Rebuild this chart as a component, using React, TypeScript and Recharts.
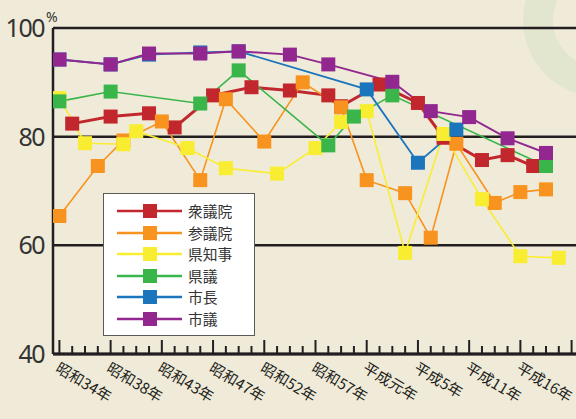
import React from "react";
import { CartesianGrid, Legend, Line, LineChart, XAxis, YAxis } from "recharts";

// x = election slot (one small tick each), y = turnout %
const xLabels = [
  "昭和34年", "昭和38年", "昭和43年", "昭和47年", "昭和52年",
  "昭和57年", "平成元年", "平成5年", "平成11年", "平成16年",
];
const xTicks = [
  0, 1, 2, 3, 4, 5, 6, 7, 8, 9, 10, 11, 12, 13, 14, 15, 16, 17, 18, 19, 20,
  21, 22, 23, 24, 25, 26, 27, 28, 29, 30, 31, 32, 33, 34, 35, 36, 37, 38, 39, 40,
];
const yTicks = [40, 60, 80, 100];

const shugiin = [
  [1, 82.4], [4, 83.7], [7, 84.3], [9, 81.7], [12, 87.6], [15, 89.1], [18, 88.5],
  [21, 87.6], [22, 85.6], [25, 89.6], [28, 86.2], [30, 79.8], [33, 75.7],
  [35, 76.6], [37, 74.6],
];
const sangiin = [
  [0, 65.4], [3, 74.6], [5, 79.3], [8, 82.8], [11, 72.0], [13, 86.9], [16, 79.1],
  [19, 90.0], [22, 85.4], [24, 72.0], [27, 69.6], [29, 61.4], [31, 78.7],
  [34, 67.8], [36, 69.8], [38, 70.3],
];
const chiji = [
  [0, 87.1], [2, 78.8], [5, 78.6], [6, 81.0], [10, 77.9], [13, 74.2], [17, 73.2],
  [20, 77.9], [22, 82.7], [24, 84.7], [27, 58.6], [30, 80.5], [33, 68.5],
  [36, 58.0], [39, 57.7],
];
const kengi = [
  [0, 86.5], [4, 88.3], [11, 86.1], [14, 92.2], [21, 78.4], [23, 83.7],
  [26, 87.6], [38, 74.6],
];
const shicho = [
  [0, 94.2], [4, 93.3], [7, 95.1], [11, 95.5], [14, 95.7], [24, 88.7],
  [28, 75.2], [31, 81.3],
];
const shigi = [
  [0, 94.2], [4, 93.3], [7, 95.3], [11, 95.3], [14, 95.7], [18, 95.1],
  [21, 93.3], [26, 90.1], [29, 84.7], [32, 83.6], [35, 79.7], [38, 77.0],
];

const toRows = (pts: number[][]) => pts.map(([k, v]) => ({ k, v }));

const series = [
  { name: "衆議院", color: "#c1272d", width: 3, pts: shugiin },
  { name: "参議院", color: "#f7931e", width: 1.6, pts: sangiin },
  { name: "県知事", color: "#f9ed32", width: 1.6, pts: chiji },
  { name: "県議", color: "#39b54a", width: 1.6, pts: kengi },
  { name: "市長", color: "#1b75bc", width: 1.8, pts: shicho },
  { name: "市議", color: "#92278f", width: 2, pts: shigi },
];

const ink = "#231f20";

const squareDot = (color: string) => (props: any) => {
  const { cx, cy, index } = props;
  if (cx == null || cy == null) return <g key={index} />;
  return <rect key={index} x={cx - 7} y={cy - 7} width={14} height={14} fill={color} />;
};

const XTick = (props: any) => {
  const { x, y, payload } = props;
  const k = payload.value;
  const major = k % 4 === 0;
  const label = major ? xLabels[k / 4] : undefined;
  const ax = x - 5;
  const ay = y + 17;
  return (
    <g>
      <line x1={x} x2={x} y1={y} y2={y - (major ? 14 : 8)} stroke={ink} strokeWidth={2} />
      {label && (
        <text
          x={ax}
          y={ay}
          transform={`rotate(31 ${ax} ${ay})`}
          fontSize={15}
          fontFamily="Noto Sans CJK JP"
          fill={ink}
        >
          {label}
        </text>
      )}
    </g>
  );
};

const YTick = (props: any) => {
  const { x, y, payload } = props;
  return (
    <text
      x={x}
      y={y}
      dy="0.36em"
      textAnchor="end"
      fontSize={25}
      fontFamily="Noto Sans"
      letterSpacing={-1.5}
      fill="#333"
    >
      {payload.value}
    </text>
  );
};

const PercentLabel = (props: any) => {
  const vb = props.viewBox || { x: 0, y: 28, width: 53 };
  return (
    <text x={vb.x + vb.width - 7} y={vb.y - 6} fontSize={14} fontFamily="Noto Sans" fill="#333">
      %
    </text>
  );
};

const LegendBox = () => (
  <div
    style={{
      width: 152,
      height: 143,
      boxSizing: "border-box",
      background: "#fff",
      border: "1.5px solid #5a5a5a",
      position: "relative",
    }}
  >
    {series.map((s, i) => (
      <div key={s.name} style={{ position: "absolute", left: 0, top: 7 + i * 21.6, height: 20, width: 150 }}>
        <svg width={82} height={20} style={{ position: "absolute", left: 0, top: 0 }}>
          <line x1={13} x2={78} y1={10} y2={10} stroke={s.color} strokeWidth={2.5} />
          <rect x={39} y={3} width={14} height={14} fill={s.color} />
        </svg>
        <span
          style={{
            position: "absolute",
            left: 84,
            top: 0,
            lineHeight: "20px",
            fontSize: 14.8,
            fontFamily: "Noto Sans CJK JP",
            color: "#333",
            whiteSpace: "nowrap",
          }}
        >
          {s.name}
        </span>
      </div>
    ))}
  </div>
);

export default function App() {
  return (
    <div
      style={{
        position: "fixed",
        left: 0,
        top: 0,
        width: 576,
        height: 419,
        overflow: "hidden",
        background: "#f0ebd9",
      }}
    >
      <svg width={576} height={419} style={{ position: "absolute", left: 0, top: 0 }}>
        <circle cx={600} cy={20} r={62} fill="none" stroke="#dbe2c8" strokeWidth={30} opacity={0.6} />
      </svg>
      <div style={{ position: "absolute", left: 0, top: 0 }}>
        <LineChart width={578} height={419} margin={{ top: 28, right: 0, bottom: 0, left: 0 }}>
          <CartesianGrid vertical={false} stroke={ink} strokeWidth={2.5} />
          <XAxis
            type="number"
            dataKey="k"
            domain={[-0.5, 40.5]}
            ticks={xTicks}
            interval={0}
            tick={<XTick />}
            tickLine={false}
            tickSize={0}
            tickMargin={0}
            height={65}
            axisLine={{ stroke: ink, strokeWidth: 3 }}
            allowDataOverflow
          />
          <YAxis
            type="number"
            domain={[40, 100]}
            ticks={yTicks}
            interval={0}
            width={53}
            tick={<YTick />}
            tickLine={false}
            tickSize={0}
            tickMargin={9}
            axisLine={{ stroke: ink, strokeWidth: 2.5 }}
            label={<PercentLabel />}
          />
          {series.map((s) => (
            <Line
              key={s.name}
              name={s.name}
              data={toRows(s.pts)}
              dataKey="v"
              type="linear"
              stroke={s.color}
              strokeWidth={s.width}
              dot={squareDot(s.color)}
              activeDot={false}
              isAnimationActive={false}
            />
          ))}
          <Legend
            layout="vertical"
            align="center"
            verticalAlign="middle"
            content={<LegendBox />}
            wrapperStyle={{ position: "absolute", left: 103, top: 193, width: 152, height: 143 }}
          />
        </LineChart>
      </div>
    </div>
  );
}
